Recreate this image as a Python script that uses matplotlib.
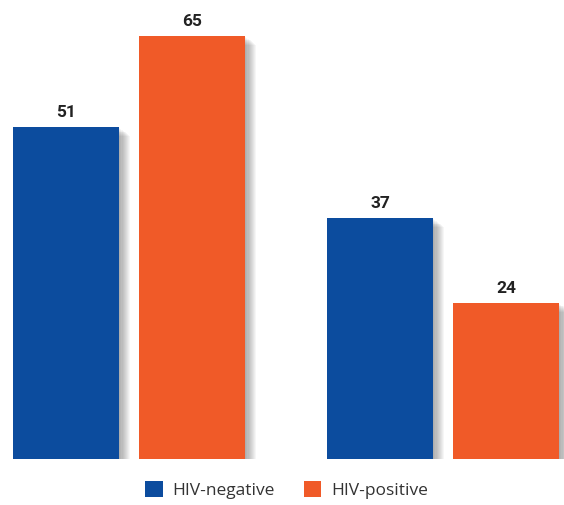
import matplotlib
matplotlib.use("Agg")
import matplotlib.pyplot as plt
import matplotlib.patheffects as pe
import numpy as np
from matplotlib.patches import Patch

groups = ["Group A", "Group B"]
series = ["HIV-negative", "HIV-positive"]
hiv_negative = [51, 37]
hiv_positive = [65, 24]
colors = ["#0C4C9E", "#F05A28"]

fig = plt.figure(figsize=(5.64, 5.05), dpi=100)
ax = fig.add_axes([0, 46 / 505, 1, 459 / 505])

x = np.arange(len(groups))
width = 0.3376
offset = 0.2006

# soft drop shadow built from stacked translucent offsets
shadow = [pe.SimplePatchShadow(offset=(d, -d * 0.8), shadow_rgbFace="black", alpha=0.035)
          for d in np.linspace(1, 8, 10)] + [pe.Normal()]

for vals, color, sign in [(hiv_negative, colors[0], -1), (hiv_positive, colors[1], 1)]:
    bars = ax.bar(x + sign * offset, vals, width, color=color, zorder=2)
    for b in bars:
        b.set_path_effects(shadow)
    for xi, v in zip(x + sign * offset, vals):
        ax.annotate(f"{v}", (xi, v), xytext=(0, 5), textcoords="offset points",
                    ha="center", va="bottom", fontsize=12.5, fontweight="bold",
                    color="#222222", family="Roboto")

ax.set_xlim(-0.4108, 1.3854)
ax.set_ylim(0, 70.5)
ax.axis("off")

handles = [Patch(facecolor=c, label=s) for c, s in zip(colors, series)]
fig.legend(handles=handles, loc="center", bbox_to_anchor=(0.508, 15 / 505),
           ncol=2, frameon=False, handlelength=1.0, handleheight=1.0,
           handletextpad=0.55, columnspacing=1.7, labelcolor="#333333",
           prop={"family": "Open Sans", "size": 12.5})

fig.savefig("out.png", dpi=100)
